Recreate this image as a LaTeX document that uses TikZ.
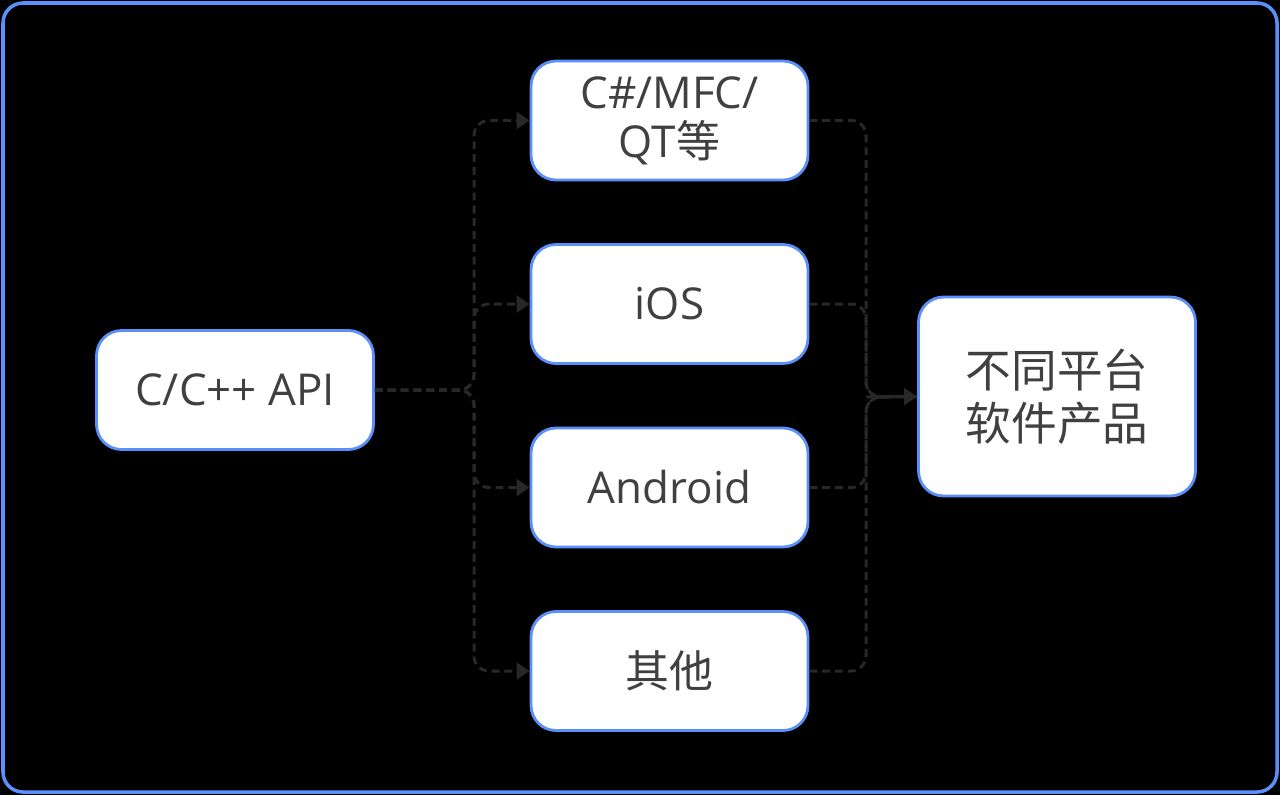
\documentclass[tikz,border=0pt]{standalone}
\usepackage{fontspec}
\usetikzlibrary{arrows.meta}
\setmainfont{Open Sans}
\newfontfamily\cjk{Noto Sans CJK SC}
\definecolor{rand}{RGB}{91,143,249}
\definecolor{lijn}{RGB}{40,40,40}
\definecolor{tekst}{RGB}{64,64,64}
\tikzset{
	blok/.style={draw=rand, line width=1.6pt, fill=white, rounded corners=0.5cm, text=tekst,
		minimum width=5.54cm, minimum height=2.38cm, align=center, inner sep=0pt,
		font=\fontsize{25}{28}\selectfont},
	pijl/.style={draw=lijn, line width=1.7pt, dash pattern=on 4.5pt off 2.8pt, rounded corners=0.3cm},
	kop/.style={-{Triangle[length=7.4pt, width=9.5pt]}},
}
\begin{document}
\begin{tikzpicture}[x=0.02cm, y=-0.02cm]
	% achtergrond
	\def\xmin{0}
	\def\xmax{1280}
	\def\ymin{0}
	\def\ymax{795}
	\fill[black] (\xmin, \ymin) rectangle (\xmax, \ymax);
	\useasboundingbox (\xmin, \ymin) rectangle (\xmax, \ymax);
	\draw[rand, line width=2pt, rounded corners=0.4cm] (3, 3) rectangle (1277, 792);

	% blokken
	\node[blok] (api) at (235, 390) {C/C++ API};
	\node[blok] (mfc) at (669.5, 120.5) {C\#/MFC/\\QT{\cjk 等}};
	\node[blok] (ios) at (669.5, 304) {iOS};
	\node[blok] (android) at (669.5, 487.5) {Android};
	\node[blok] (overig) at (669.5, 671) {\cjk 其他};
	\node[blok, minimum height=3.98cm, font=\cjk\fontsize{26}{30}\selectfont] (product) at (1057, 396.5) {不同平台\\软件产品};

	% verbindingen
	\coordinate (splits) at (474, 390);
	\coordinate (samen) at (866, 397);
	\foreach \doel in {mfc, ios, android, overig}{
		\draw[pijl, kop] (api.east) -- (splits) |- (\doel.west);
		\draw[pijl] (\doel.east) -| (samen) -- (product.west);
	}
	\draw[kop, lijn, line width=1.7pt] (samen) -- (product.west);
\end{tikzpicture}
\end{document}
